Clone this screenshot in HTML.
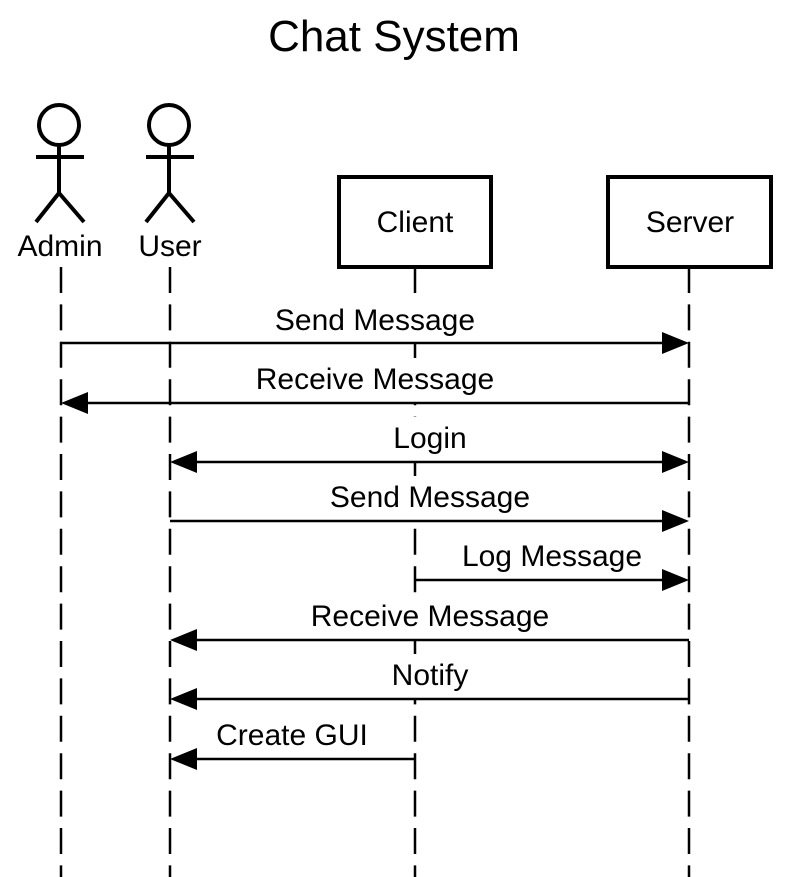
<!DOCTYPE html>
<html><head><meta charset="utf-8"><style>
html,body{margin:0;padding:0;background:#fff;}
svg{display:block;}
text{font-family:"Liberation Sans",Arial,sans-serif;fill:#000;}
</style></head><body>
<svg width="788" height="877" viewBox="0 0 788 877" xmlns="http://www.w3.org/2000/svg">
<text x="394" y="51" font-size="44" text-anchor="middle">Chat System</text>
<g stroke="#000" stroke-width="2.5" stroke-dasharray="26 11.4">
<line x1="61" y1="267" x2="61" y2="877"/>
<line x1="170" y1="267" x2="170" y2="877"/>
<line x1="415" y1="267" x2="415" y2="877"/>
<line x1="689" y1="267" x2="689" y2="877"/>
</g>
<g stroke="#000" stroke-width="4" fill="none">
<circle cx="59" cy="125" r="20"/>
<line x1="59" y1="145" x2="59" y2="195"/>
<line x1="36" y1="157" x2="84" y2="157"/>
<line x1="59" y1="193" x2="36" y2="222"/>
<line x1="59" y1="193" x2="84" y2="222"/>
<circle cx="169" cy="125" r="20"/>
<line x1="169" y1="145" x2="169" y2="195"/>
<line x1="146" y1="157" x2="194" y2="157"/>
<line x1="169" y1="193" x2="146" y2="222"/>
<line x1="169" y1="193" x2="194" y2="222"/>
</g>
<text x="60" y="256" font-size="30" text-anchor="middle">Admin</text>
<text x="170" y="256" font-size="30" text-anchor="middle">User</text>
<rect x="339" y="177" width="152" height="90" fill="#fff" stroke="#000" stroke-width="4"/>
<text x="415" y="232" font-size="30" text-anchor="middle">Client</text>
<rect x="608" y="177" width="163" height="90" fill="#fff" stroke="#000" stroke-width="4"/>
<text x="690" y="232" font-size="30" text-anchor="middle">Server</text>
<g font-size="30" text-anchor="middle">
<rect x="268" y="298" width="214" height="44" fill="#fff"/><text x="375" y="330">Send Message</text>
<rect x="248" y="358" width="254" height="44" fill="#fff"/><text x="375" y="389">Receive Message</text>
<rect x="385" y="417" width="90" height="44" fill="#fff"/><text x="430" y="448">Login</text>
<rect x="323" y="476" width="214" height="44" fill="#fff"/><text x="430" y="507">Send Message</text>
<rect x="455" y="535" width="194" height="44" fill="#fff"/><text x="552" y="566">Log Message</text>
<rect x="303" y="595" width="254" height="44" fill="#fff"/><text x="430" y="626">Receive Message</text>
<rect x="385" y="654" width="90" height="44" fill="#fff"/><text x="430" y="685">Notify</text>
<rect x="210" y="714" width="164" height="44" fill="#fff"/><text x="292" y="745">Create GUI</text>
</g>
<g stroke="#000" stroke-width="2.5">
<line x1="61" y1="343" x2="665" y2="343"/>
<line x1="85" y1="403" x2="689" y2="403"/>
<line x1="194" y1="462" x2="665" y2="462"/>
<line x1="170" y1="521" x2="665" y2="521"/>
<line x1="415" y1="580" x2="665" y2="580"/>
<line x1="194" y1="640" x2="689" y2="640"/>
<line x1="194" y1="699" x2="689" y2="699"/>
<line x1="194" y1="759" x2="415" y2="759"/>
</g>
<g fill="#000">
<polygon points="689,343 662,332 662,354"/>
<polygon points="61,403 88,392 88,414"/>
<polygon points="170,462 197,451 197,473"/>
<polygon points="689,462 662,451 662,473"/>
<polygon points="689,521 662,510 662,532"/>
<polygon points="689,580 662,569 662,591"/>
<polygon points="170,640 197,629 197,651"/>
<polygon points="170,699 197,688 197,710"/>
<polygon points="170,759 197,748 197,770"/>
</g>
</svg>
</body></html>
